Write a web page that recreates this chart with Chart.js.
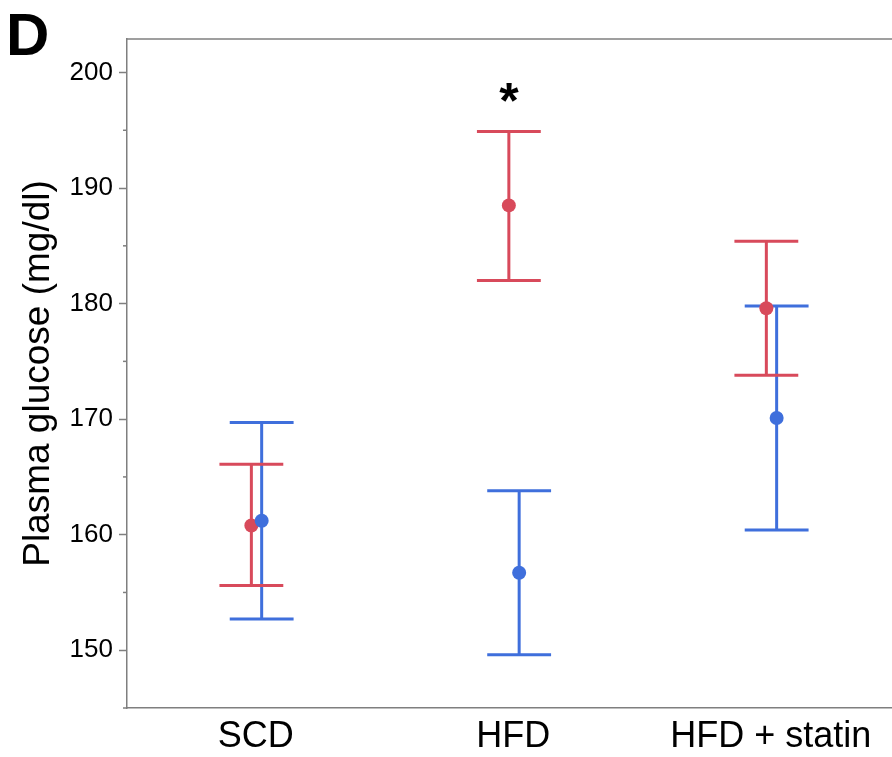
<!DOCTYPE html>
<html>
<head>
<meta charset="utf-8">
<script src="https://cdn.jsdelivr.net/npm/chart.js@4.4.1/dist/chart.umd.min.js"></script>
<style>
  html, body { margin: 0; padding: 0; background: #fff; }
  #wrap { width: 892px; height: 757px; position: relative; }
</style>
</head>
<body>
<div id="wrap"><canvas id="chart"></canvas></div>
<script>
// groups on the x axis
const categories = ["SCD", "HFD", "HFD + statin"];

// red series (mean and error bar ends)
const redMean = [160.8, 188.5, 179.6];
const redUpper = [166.1, 194.9, 185.4];
const redLower = [155.6, 182.0, 173.8];

// blue series
const blueMean = [161.2, 156.7, 170.1];
const blueUpper = [169.7, 163.8, 179.8];
const blueLower = [152.7, 149.6, 160.4];

const yTickLabels = [150, 160, 170, 180, 190, 200];
const starGroup = 1; // asterisk over HFD

const RED = "#d84a5b";
const BLUE = "#3f6fdc";
const AXIS = "#7f7f7f";
const FONT = "'Liberation Sans', Arial, Helvetica, sans-serif";

// small dodge so the two series don't sit on top of each other
const redShift = -0.017;
const blueShift = 0.023;
const capHalf = 0.124;

function points(means, shift) {
  return means.map((m, i) => ({ x: i + 0.5 + shift, y: m }));
}

const errorBars = {
  id: "errorBars",
  beforeDatasetsDraw(chart) {
    const { ctx, scales: { x, y } } = chart;
    const series = [
      [blueUpper, blueLower, blueShift, BLUE],
      [redUpper, redLower, redShift, RED],
    ];
    ctx.save();
    ctx.lineWidth = 3;
    series.forEach(([up, lo, shift, color]) => {
      ctx.strokeStyle = color;
      up.forEach((u, i) => {
        const cx = x.getPixelForValue(i + 0.5 + shift);
        const half = x.getPixelForValue(capHalf) - x.getPixelForValue(0);
        const yu = y.getPixelForValue(u);
        const yl = y.getPixelForValue(lo[i]);
        ctx.beginPath();
        ctx.moveTo(cx, yu); ctx.lineTo(cx, yl);
        ctx.moveTo(cx - half, yu); ctx.lineTo(cx + half, yu);
        ctx.moveTo(cx - half, yl); ctx.lineTo(cx + half, yl);
        ctx.stroke();
      });
    });
    ctx.restore();
  },
  afterDraw(chart) {
    const { ctx, chartArea, scales: { x, y } } = chart;
    ctx.save();
    // top frame line
    ctx.strokeStyle = AXIS;
    ctx.lineWidth = 1.5;
    ctx.beginPath();
    ctx.moveTo(chartArea.left, chartArea.top);
    ctx.lineTo(chart.width, chartArea.top);
    ctx.stroke();
    // minor ticks on the y axis
    for (let v = 145; v < 203; v += 10) {
      const py = y.getPixelForValue(v);
      ctx.beginPath();
      ctx.moveTo(chartArea.left - 4, py);
      ctx.lineTo(chartArea.left, py);
      ctx.stroke();
    }
    // panel letter
    ctx.fillStyle = "#000";
    ctx.font = "bold 60px " + FONT;
    ctx.textBaseline = "alphabetic";
    ctx.textAlign = "left";
    ctx.fillText("D", 6, 55);
    // significance mark
    ctx.font = "bold 50px " + FONT;
    ctx.textAlign = "center";
    ctx.fillText("*", x.getPixelForValue(starGroup + 0.5 + redShift), 118);
    ctx.restore();
  }
};

new Chart(document.getElementById("chart"), {
  type: "scatter",
  data: {
    datasets: [
      {
        label: "red",
        data: points(redMean, redShift),
        backgroundColor: RED,
        borderWidth: 0,
        pointRadius: 7,
        order: 2
      },
      {
        label: "blue",
        data: points(blueMean, blueShift),
        backgroundColor: BLUE,
        borderWidth: 0,
        pointRadius: 7,
        order: 1
      }
    ]
  },
  options: {
    responsive: true,
    maintainAspectRatio: false,
    animation: false,
    devicePixelRatio: 1,
    layout: { autoPadding: false, padding: { top: 39, right: 0, left: 0, bottom: 0 } },
    plugins: { legend: { display: false }, tooltip: { enabled: false } },
    scales: {
      x: {
        type: "linear",
        min: 0,
        max: 2.971,
        afterBuildTicks: (s) => { s.ticks = categories.map((c, i) => ({ value: i + 0.5 })); },
        afterFit: (s) => { s.height = 49; s.paddingRight = 0; s.paddingLeft = 0; },
        ticks: {
          callback: (v) => categories[Math.round(v - 0.5)],
          font: { family: FONT, size: 36 },
          color: "#000",
          padding: 7,
          maxRotation: 0,
          autoSkip: false
        },
        grid: { drawOnChartArea: false, drawTicks: false },
        border: { color: AXIS, width: 1.5 }
      },
      y: {
        min: 145,
        max: 202.9,
        afterBuildTicks: (s) => { s.ticks = yTickLabels.map(v => ({ value: v })); },
        afterFit: (s) => { s.width = 127; s.paddingTop = 0; s.paddingBottom = 0; },
        ticks: {
          font: { family: FONT, size: 26 },
          color: "#000",
          padding: 6
        },
        grid: { drawOnChartArea: false, tickLength: 8, tickColor: AXIS, tickWidth: 1.5 },
        border: { color: AXIS, width: 1.5 },
        title: {
          display: true,
          text: "Plasma glucose (mg/dl)",
          font: { family: FONT, size: 37 },
          color: "#000",
          padding: { top: 17, bottom: 0 }
        }
      }
    }
  },
  plugins: [errorBars]
});
</script>
</body>
</html>
